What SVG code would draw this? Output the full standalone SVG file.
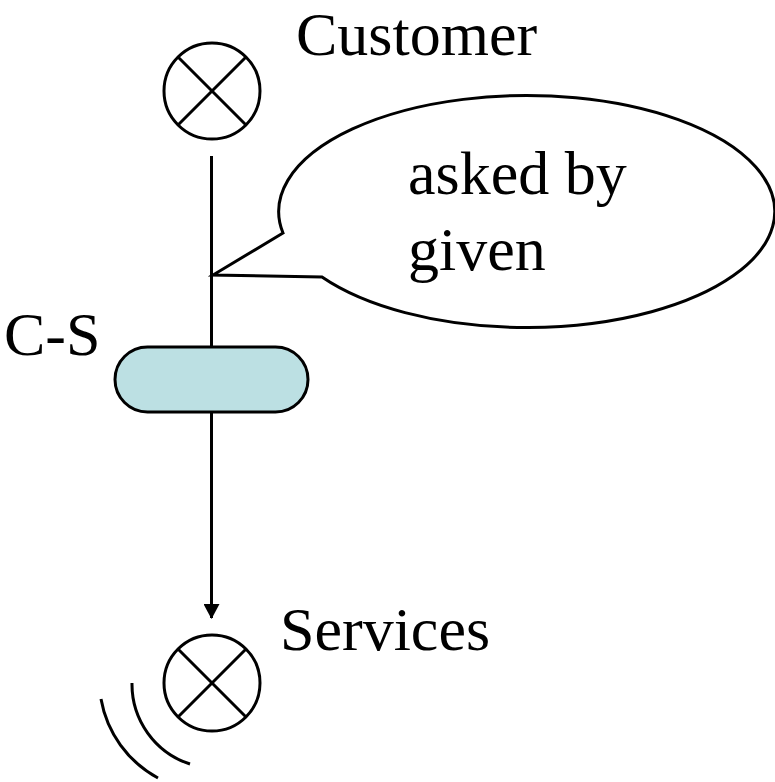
<svg xmlns="http://www.w3.org/2000/svg" width="775" height="782" viewBox="0 0 775 782">
<style>
.ln{fill:none;stroke:#000;stroke-width:3}
.txt{font-family:"Liberation Serif","Times New Roman",serif;font-size:62px;fill:#000}
</style>
<defs>
<marker id="arr" markerWidth="16" markerHeight="16" refX="14" refY="8" orient="auto" markerUnits="userSpaceOnUse">
<path d="M0,0 L15,8 L0,16 Z" fill="#000"/>
</marker>
</defs>
<rect width="775" height="782" fill="#fff"/>
<g id="connectors">
<line class="ln" x1="211.5" y1="156" x2="211.5" y2="347"/>
<line class="ln" x1="211.5" y1="412" x2="211.5" y2="618" marker-end="url(#arr)"/>
</g>
<g id="customer">
<circle class="ln" cx="212" cy="91" r="48"/>
<line class="ln" x1="178" y1="57" x2="246" y2="125"/>
<line class="ln" x1="246" y1="57" x2="178" y2="125"/>
<text class="txt" x="296" y="55">Customer</text>
</g>
<g id="callout">
<path class="ln" d="M283,233 L213,275 L322,277 A248 116 0 1 0 283,233 Z" fill="#fff"/>
<text class="txt" x="408" y="194">asked by</text>
<text class="txt" x="408" y="270">given</text>
</g>
<g id="cs">
<rect x="115" y="347" width="193" height="65" rx="32.5" ry="32.5" fill="#BCE0E3" stroke="#000" stroke-width="3"/>
<text class="txt" x="4" y="355">C-S</text>
</g>
<g id="services">
<circle class="ln" cx="212" cy="683" r="48"/>
<line class="ln" x1="178" y1="649" x2="246" y2="717"/>
<line class="ln" x1="246" y1="649" x2="178" y2="717"/>
<text class="txt" x="280" y="650">Services</text>
<path class="ln" d="M132,683 A84 84 0 0 0 190,764"/>
<path class="ln" d="M101,699 A112 112 0 0 0 158,778"/>
</g>
</svg>
